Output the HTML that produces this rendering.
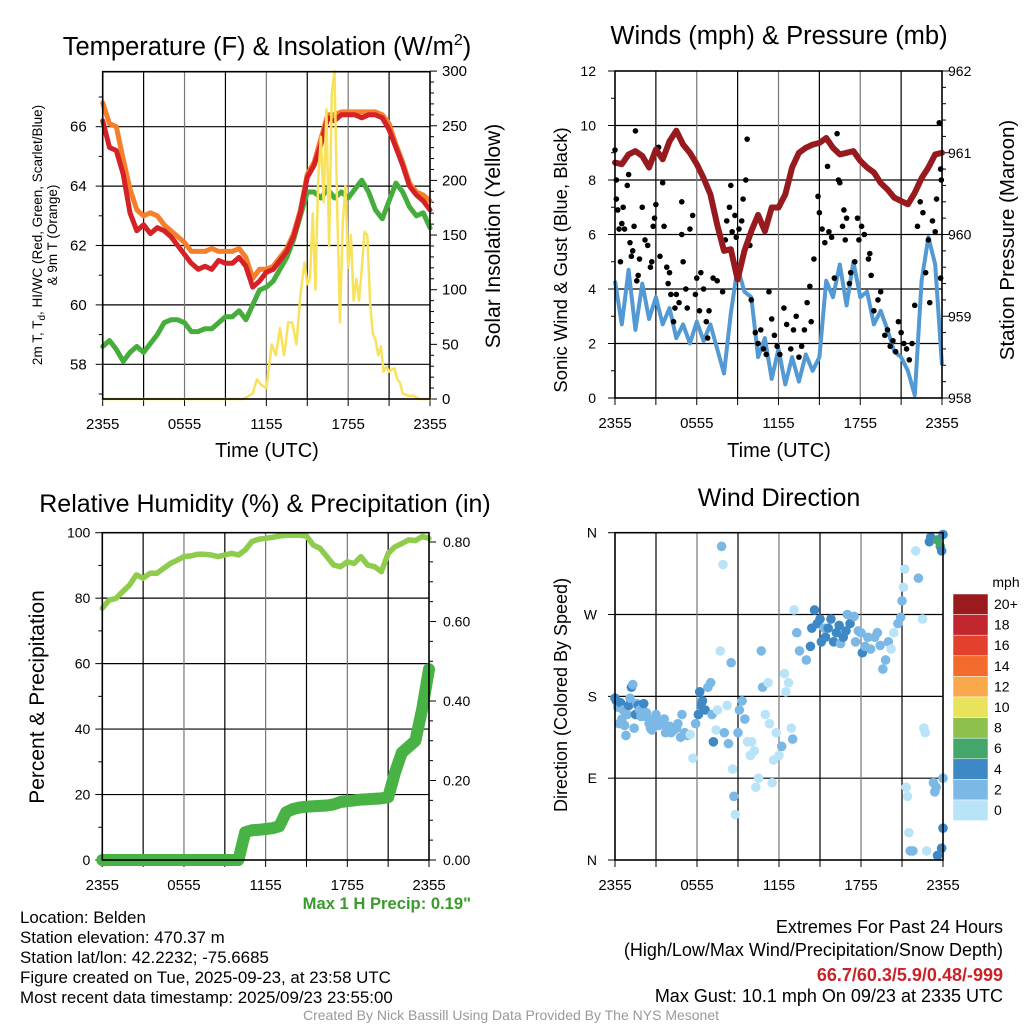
<!DOCTYPE html>
<html><head><meta charset="utf-8"><style>
html,body{margin:0;padding:0;background:#fff;}
svg{display:block;font-family:"Liberation Sans",Arial,sans-serif;}
</style></head><body>
<svg id="chart" width="1024" height="1024" viewBox="0 0 1024 1024"></svg>
<script>
// ---------- DATA ----------
const tempRed=[66.2,65.3,65.2,64.4,63.1,62.5,62.7,62.4,62.6,62.5,62.3,62.0,61.7,61.4,61.2,61.3,61.2,61.5,61.4,61.4,61.6,61.3,60.6,60.8,61.1,61.2,61.5,61.8,62.3,63.1,64.3,64.7,65.4,66.3,66.2,66.4,66.4,66.4,66.3,66.4,66.4,66.3,65.9,65.3,64.7,64.0,63.7,63.5,63.2];
const tempOrange=[66.8,66.1,66.0,64.9,63.9,63.2,63.0,63.1,63.0,62.7,62.5,62.3,62.1,61.8,61.8,61.8,61.9,61.8,61.8,61.8,61.9,61.6,60.9,61.2,61.2,61.3,61.6,61.9,62.4,63.2,64.4,64.8,65.6,66.4,66.4,66.5,66.5,66.5,66.5,66.5,66.5,66.4,66.1,65.4,64.8,64.1,63.8,63.7,63.5];
const dewGreen=[58.6,58.8,58.5,58.1,58.4,58.6,58.4,58.7,59.0,59.4,59.5,59.5,59.4,59.1,59.1,59.2,59.2,59.4,59.6,59.6,59.8,59.5,60.0,60.5,60.6,60.8,61.2,61.6,62.2,63.0,63.8,63.8,63.6,63.9,63.6,63.8,63.6,63.9,64.2,63.8,63.2,62.9,63.5,64.1,63.8,63.3,63.0,63.1,62.6];
const solarTimes=[0,10.3,10.6,11,11.3,11.6,12,12.4,12.7,13,13.3,13.6,13.9,14.2,14.5,14.8,15,15.2,15.4,15.6,15.8,16,16.2,16.4,16.6,16.8,17,17.2,17.4,17.6,17.8,18,18.2,18.4,18.6,18.8,19,19.2,19.4,19.6,19.8,20,20.2,20.4,20.6,20.8,21,21.2,21.4,21.6,21.8,22,22.4,22.8,23.2,24];
const solarVals=[0,0,2,5,18,13,10,50,40,65,40,70,70,50,95,125,105,110,170,100,200,240,180,265,140,280,300,170,70,160,195,120,150,90,110,90,120,153,150,90,60,55,40,48,25,30,25,27,28,18,15,5,3,3,0,0];
const pressure=[960.88,960.86,960.98,961.02,960.96,960.82,961.04,960.92,961.14,961.27,961.10,961.0,960.86,960.69,960.49,960.12,959.80,959.82,959.45,959.80,960.04,960.24,960.04,960.33,960.33,960.49,960.82,961.0,961.06,961.10,961.12,961.18,961.06,960.98,961.0,961.02,960.90,960.82,960.76,960.63,960.55,960.45,960.41,960.37,960.51,960.69,960.82,960.98,961.0];
const sonicWind=[4.3,2.7,4.7,2.5,4.2,2.9,3.7,2.7,3.3,2.2,2.7,2.0,2.8,2.1,2.7,1.8,0.9,3.1,4.8,3.9,3.7,1.5,2.2,0.7,1.8,0.5,1.5,0.6,1.6,1.0,1.5,4.3,3.7,4.9,3.4,5.0,3.7,3.9,2.7,3.2,2.5,1.7,1.5,1.0,0.1,4.3,5.9,4.9,1.2];
const gustTimes=[0.0,0.1,0.1,0.2,0.3,0.4,0.5,0.6,0.7,0.9,1.0,1.1,1.2,1.3,1.4,1.5,1.6,1.7,1.8,2.0,2.2,2.4,2.6,2.7,2.8,2.9,3.0,3.2,3.3,3.5,3.6,3.8,3.9,4.0,4.1,4.3,4.4,4.5,4.7,4.9,4.9,5.0,5.2,5.3,5.5,5.7,5.9,6.0,6.2,6.3,6.5,6.7,6.8,6.9,7.2,7.5,7.9,8.1,8.2,8.4,8.5,8.6,8.8,8.9,9.1,9.3,9.4,9.6,9.7,9.9,10.0,10.3,10.5,10.7,10.9,11.1,11.3,11.5,11.7,11.9,12.1,12.4,12.6,12.9,13.1,13.3,13.5,13.7,13.9,14.1,14.3,14.4,14.6,14.9,15.0,15.2,15.4,15.6,15.7,15.9,16.1,16.3,16.4,16.5,16.7,16.8,16.9,17.0,17.2,17.3,17.6,17.8,17.9,18.1,18.3,18.6,18.7,18.8,19.0,19.3,19.5,19.8,20.0,20.2,20.4,20.6,20.8,21.0,21.2,21.4,21.6,21.8,22.0,22.2,22.4,22.6,22.8,23.0,23.1,23.3,23.5,23.6,23.8,23.9,23.9,23.95];
const gustVals=[9.1,8.0,7.3,6.9,6.2,5.0,6.4,7.0,6.2,7.8,8.2,5.7,5.2,5.4,6.3,9.8,4.3,4.5,5.1,7.0,5.8,5.6,4.8,5.0,6.3,6.6,7.1,9.2,5.2,7.9,6.3,4.8,4.2,4.6,3.8,2.8,3.3,3.8,3.5,7.2,6.0,5.0,4.0,3.3,6.2,6.7,3.8,4.4,3.2,4.6,4.0,2.8,2.2,3.2,4.4,4.3,3.9,5.8,6.5,7.0,7.8,6.1,6.7,5.9,6.2,6.5,7.3,8.0,9.5,5.6,3.6,2.4,2.0,2.5,1.8,1.6,3.9,2.9,2.3,1.9,1.6,3.3,2.7,1.8,2.5,3.0,1.5,1.9,2.5,3.5,4.1,2.8,5.1,7.4,6.8,6.2,5.7,8.5,6.1,5.9,4.4,9.7,8.0,7.9,6.3,6.9,5.8,6.6,4.2,4.6,5.0,6.6,5.8,6.3,6.0,5.1,5.3,4.5,3.2,3.6,3.9,2.3,2.5,1.9,2.1,1.7,2.8,2.4,2.0,1.8,1.4,2.0,3.4,6.3,7.2,6.8,4.6,5.8,3.5,6.5,6.1,7.3,10.1,4.4,8.4,8.0];
const rhVals=[76.9,79.4,79.9,82.0,84.0,87.1,86.1,87.6,87.6,89.1,90.6,91.6,92.7,92.9,93.4,93.4,93.2,92.7,93.2,93.7,93.2,94.7,97.3,98.0,98.3,98.6,99.0,99.2,99.3,99.2,99.0,96.2,95.2,92.7,90.1,89.6,91.1,90.6,92.7,90.1,89.6,88.1,93.7,95.7,96.7,97.8,97.6,98.8,98.3];
const precipVals=[0,0,0,0,0,0,0,0,0,0,0,0,0,0,0,0,0,0,0,0,0,0.07,0.075,0.076,0.078,0.08,0.085,0.12,0.128,0.132,0.134,0.135,0.136,0.137,0.14,0.146,0.148,0.15,0.152,0.153,0.154,0.155,0.158,0.22,0.27,0.285,0.30,0.38,0.48];
const dirTimes=[0.0,0.1,0.2,0.3,0.4,0.5,0.6,0.7,0.8,0.9,1.0,1.1,1.2,1.3,1.4,1.5,1.6,1.7,1.8,1.9,2.0,2.1,2.2,2.3,2.5,2.6,2.7,2.8,3.0,3.1,3.2,3.4,3.6,3.7,3.8,4.0,4.1,4.3,4.5,4.6,4.8,4.9,5.1,5.3,5.5,5.7,5.9,6.1,6.2,6.3,6.4,6.6,6.8,7.0,7.1,7.2,7.4,7.5,7.7,7.8,7.9,8.0,8.2,8.3,8.5,8.6,8.7,8.8,9.0,9.1,9.3,9.5,9.7,9.9,10.0,10.2,10.3,10.5,10.7,10.8,11.0,11.2,11.3,11.5,11.6,11.8,12.0,12.2,12.4,12.5,12.7,12.9,13.0,13.1,13.3,13.5,14.0,14.3,14.4,14.6,14.8,15.0,15.1,15.3,15.4,15.6,15.8,16.0,16.2,16.4,16.5,16.7,16.9,17.0,17.2,17.5,17.6,17.8,18.0,18.1,18.3,18.5,18.7,19.0,19.2,19.4,19.6,19.8,20.0,20.2,20.4,20.7,20.9,21.0,21.1,21.2,21.3,21.4,21.5,21.6,21.8,22.0,22.2,22.5,22.6,22.7,22.8,23.0,23.1,23.3,23.4,23.5,23.6,23.8,23.9,24.0,24.0,23.9,23.6,24.0];
const dirVals=[178,175,168,150,173,155,165,148,137,160,170,178,190,193,145,160,172,170,165,158,168,172,158,162,150,145,143,155,160,152,148,150,155,140,145,147,140,143,145,150,135,160,140,137,138,112,150,160,185,170,175,165,190,195,160,130,143,165,230,345,325,140,170,128,217,100,70,50,140,165,175,155,130,115,130,120,80,90,230,190,160,195,150,85,110,140,115,125,205,185,195,145,133,275,250,230,220,235,255,275,260,265,240,255,245,255,265,240,250,258,238,245,252,270,260,268,240,252,250,228,235,245,232,245,250,236,210,220,240,232,250,260,267,285,300,320,80,70,30,10,10,340,310,265,145,140,10,350,355,85,75,80,352,345,340,358,35,13,5,90];
const dirSpeeds=[5,5,3,3,5,3,3,3,3,3,5,3,5,3,3,5,3,5,3,3,3,5,3,3,3,3,3,3,3,3,3,3,3,3,3,3,3,3,3,3,3,3,3,3,1,1,3,5,5,5,5,5,3,3,3,5,1,1,1,3,1,3,1,3,3,1,3,1,3,3,3,3,1,1,1,1,1,1,3,3,1,1,1,1,1,1,1,3,1,1,1,1,3,1,3,3,3,5,5,5,5,5,5,3,5,5,5,5,5,5,3,5,5,3,5,3,3,3,3,5,3,3,3,3,3,3,3,3,3,1,1,3,3,3,1,1,1,1,1,3,3,1,3,1,1,1,1,5,5,3,3,3,7,7,5,5,5,5,5,3];
const speedLabels=["20+","18","16","14","12","10","8","6","4","2","0"];
const speedColors=["#9a1a1d","#c1272d","#e4402e","#f26b2c","#f9a84b","#e9e25c","#8dc14b","#44a66b","#3d88c5","#7bb8e5","#b9e3f7"];

// ---------- HELPERS ----------
const NS="http://www.w3.org/2000/svg";
const svg=document.getElementById('chart');
function mk(tag,attrs,parent){const e=document.createElementNS(NS,tag);for(const k in attrs)e.setAttribute(k,attrs[k]);(parent||svg).appendChild(e);return e;}
function txt(s,x,y,size,anchor,parent,extra){const e=mk('text',Object.assign({x:x,y:y,'font-size':size,'text-anchor':anchor||'middle',fill:'#000'},extra||{}),parent);e.textContent=s;return e;}
const xTickLabels=["2355","0555","1155","1755","2355"];
const halfHours=tempRed.map((v,i)=>i*0.5);

function panel(name,L,R,T,B){
  const g=mk('g',{});
  
  
  const xs=t=>L+t/24*(R-L);
  return {g,L,R,T,B,xs};
}
function vgrid(p){
  for(let h=3;h<24;h+=3){const x=p.xs(h);
    mk('line',{x1:x,y1:p.T,x2:x,y2:p.B,stroke:h%6==0?'#777':'#000','stroke-width':1.2},p.g);}
  const gt=mk('g',{},p.g);
  
  
  for(let h=0;h<=24;h+=3){const x=p.xs(h);mk('line',{x1:x,y1:p.B,x2:x,y2:p.B+7,stroke:'#000','stroke-width':1},gt);}
  xTickLabels.forEach((s,i)=>{txt(s,p.xs(i*6),p.B+30,15,'middle',gt);});
}
function frame(p){mk('rect',{x:p.L,y:p.T,width:p.R-p.L,height:p.B-p.T,fill:'none',stroke:'#000','stroke-width':1.6},p.g);}
function pathFrom(ts,vs,xs,ys){return ts.map((t,i)=>(i?'L':'M')+xs(t).toFixed(1)+','+ys(vs[i]).toFixed(1)).join(' ');}

// ---------- PANEL 1: Temperature ----------
(function(){
  const p=panel('temperature-panel',102.7,430,71.7,399);
  const yT=v=>126.7+(66-v)*29.7;
  const yS=v=>399-v*1.093;
  for(let v=58;v<=66;v+=2)mk('line',{x1:p.L,y1:yT(v),x2:p.R,y2:yT(v),stroke:'#000','stroke-width':1.2},p.g);
  vgrid(p);
  const ly=mk('g',{},p.g);
  for(let v=57;v<=67;v++){mk('line',{x1:p.L-(v%2==0?7:4),y1:yT(v),x2:p.L,y2:yT(v),stroke:'#000'},ly);if(v%2==0)txt(String(v),p.L-16,yT(v)+5,15,'end',ly);}
  const ry=mk('g',{},p.g);
  for(let v=0;v<=300;v+=10){mk('line',{x1:p.R,y1:yS(v),x2:p.R+(v%50==0?7:4),y2:yS(v),stroke:'#000'},ry);if(v%50==0)txt(String(v),p.R+12,yS(v)+5,15,'start',ry);}
  const series=[[halfHours,dewGreen,'#46ad3d','dewpoint-line',5],[halfHours,tempOrange,'#f57f2a','temp-9m-line',5],[halfHours,tempRed,'#d42227','temp-2m-line',5],[solarTimes,solarVals,'#f8e25c','solar-line',2.5]];
  series.forEach(s=>{const ys=s===series[3]?yS:yT;const e=mk('path',{d:pathFrom(s[0],s[1],p.xs,ys),fill:'none',stroke:s[2],'stroke-width':s[4],'stroke-linejoin':'round','stroke-linecap':'round'},p.g);
    });
  frame(p);
  const t=txt('',267,55,25.5,'middle',p.g);t.innerHTML='Temperature (F) &amp; Insolation (W/m<tspan dy="-10" font-size="16">2</tspan><tspan dy="10">)</tspan>';
  
  const xl=txt('Time (UTC)',267,457,20,'middle',p.g);
  const yl=mk('text',{transform:'translate(42,235) rotate(-90)','font-size':13.5,'text-anchor':'middle'},p.g);
  yl.innerHTML='<tspan x="0" y="0">2m T, T<tspan font-size="10" dy="3">d</tspan><tspan dy="-3">, HI/WC (Red, Green, Scarlet/Blue)</tspan></tspan><tspan x="0" y="15">&amp; 9m T (Orange)</tspan>';
  
  const yr=mk('text',{transform:'translate(500,236) rotate(-90)','font-size':21,'text-anchor':'middle'},p.g);yr.textContent='Solar Insolation (Yellow)';
  
})();

// ---------- PANEL 2: Winds ----------
(function(){
  const p=panel('winds-panel',615,942,71,398);
  const yW=v=>398-v*27.25;
  const yP=v=>398-(v-958)*81.75;
  for(let v=2;v<=10;v+=2)mk('line',{x1:p.L,y1:yW(v),x2:p.R,y2:yW(v),stroke:'#000','stroke-width':1.2},p.g);
  vgrid(p);
  const ly=mk('g',{},p.g);
  for(let v=0;v<=12;v++){mk('line',{x1:p.L-(v%2==0?7:4),y1:yW(v),x2:p.L,y2:yW(v),stroke:'#000'},ly);if(v%2==0)txt(String(v),p.L-19,yW(v)+5,14,'end',ly);}
  const ry=mk('g',{},p.g);
  for(let v=958;v<=962.001;v+=0.2){const vv=Math.round(v*10)/10;const maj=Math.abs(vv-Math.round(vv))<0.01;mk('line',{x1:p.R,y1:yP(vv),x2:p.R+(maj?7:4),y2:yP(vv),stroke:'#000'},ry);if(maj)txt(String(Math.round(vv)),p.R+6,yP(vv)+5,14,'start',ry);}
  const b=mk('path',{d:pathFrom(halfHours,sonicWind,p.xs,yW),fill:'none',stroke:'#5399d3','stroke-width':4,'stroke-linejoin':'round'},p.g);
  
  const gg=mk('g',{},p.g);
  gustTimes.forEach((t,i)=>{const c=mk('circle',{cx:p.xs(t),cy:yW(gustVals[i]),r:2.8,fill:'#000'},gg);
    
    });
  const pr=mk('path',{d:pathFrom(halfHours,pressure,p.xs,yP),fill:'none',stroke:'#971b1e','stroke-width':6,'stroke-linejoin':'round','stroke-linecap':'round'},p.g);
  
  frame(p);
  const t=txt('Winds (mph) & Pressure (mb)',779,44,25.5,'middle',p.g);
  const xl=txt('Time (UTC)',779,457,20,'middle',p.g);
  const yl=mk('text',{transform:'translate(567,260) rotate(-90)','font-size':18.5,'text-anchor':'middle'},p.g);yl.textContent='Sonic Wind & Gust (Blue, Black)';
  
  const yr=mk('text',{transform:'translate(1014,240) rotate(-90)','font-size':20.5,'text-anchor':'middle'},p.g);yr.textContent='Station Pressure (Maroon)';
  
})();

// ---------- PANEL 3: RH & Precip ----------
(function(){
  const p=panel('humidity-panel',102.3,429,532.7,860);
  const yR=v=>860-v*3.273;
  const yPc=v=>860-v*397.5;
  for(let v=20;v<=80;v+=20)mk('line',{x1:p.L,y1:yR(v),x2:p.R,y2:yR(v),stroke:'#000','stroke-width':1.2},p.g);
  vgrid(p);
  const ly=mk('g',{},p.g);
  for(let v=0;v<=100;v+=10){mk('line',{x1:p.L-(v%20==0?7:4),y1:yR(v),x2:p.L,y2:yR(v),stroke:'#000'},ly);if(v%20==0)txt(String(v),p.L-12,yR(v)+5,14,'end',ly);}
  const ry=mk('g',{},p.g);
  for(let k=0;k<=16;k++){const v=k*0.05;mk('line',{x1:p.R,y1:yPc(v),x2:p.R+(k%4==0?7:4),y2:yPc(v),stroke:'#000'},ry);if(k%4==0)txt(v.toFixed(2),p.R+14,yPc(v)+5,14,'start',ry);}
  const rh=mk('path',{d:pathFrom(halfHours,rhVals,p.xs,yR),fill:'none',stroke:'#8fcb4d','stroke-width':5.5,'stroke-linejoin':'round','stroke-linecap':'round'},p.g);
  
  const pc=mk('path',{d:pathFrom(halfHours,precipVals,p.xs,yPc),fill:'none',stroke:'#48b245','stroke-width':12,'stroke-linejoin':'round','stroke-linecap':'round'},p.g);
  
  frame(p);
  const t=txt('Relative Humidity (%) & Precipitation (in)',265,512,25,'middle',p.g);
  const yl=mk('text',{transform:'translate(44,697) rotate(-90)','font-size':21,'text-anchor':'middle'},p.g);yl.textContent='Percent & Precipitation';
  
  const mp=txt('Max 1 H Precip: 0.19"',471,909,16.6,'end',p.g,{fill:'#3a9a2e','font-weight':'bold'});
  
})();

// ---------- PANEL 4: Wind Direction ----------
(function(){
  const p=panel('wind-direction-panel',615,943,532.7,860);
  const yD=v=>860-v/360*327.3;
  for(let v=90;v<=270;v+=90)mk('line',{x1:p.L,y1:yD(v),x2:p.R,y2:yD(v),stroke:'#000','stroke-width':1.2},p.g);
  vgrid(p);
  const ly=mk('g',{},p.g);
  ['N','E','S','W','N'].forEach((s,i)=>{mk('line',{x1:p.L-7,y1:yD(i*90),x2:p.L,y2:yD(i*90),stroke:'#000'},ly);txt(s,p.L-18,yD(i*90)+5,14,'end',ly);});
  const colorFor=s=>speedColors[10-Math.min(10,Math.floor(s/2))];
  const dg=mk('g',{},p.g);
  dirTimes.forEach((t,i)=>{const c=mk('circle',{cx:p.xs(t),cy:yD(dirVals[i]),r:4.8,fill:colorFor(dirSpeeds[i])},dg);
    
    });
  frame(p);
  const t=txt('Wind Direction',779,506,25,'middle',p.g);
  const yl=mk('text',{transform:'translate(567,695) rotate(-90)','font-size':18,'text-anchor':'middle'},p.g);yl.textContent='Direction (Colored By Speed)';
  
  const lg=mk('g',{},p.g);
  txt('mph',1006,587,14,'middle',lg);
  speedLabels.forEach((s,i)=>{const y=594+i*20.6;
    const r=mk('rect',{x:953,y:y,width:35,height:20.6,fill:speedColors[i],stroke:'#fff','stroke-width':0.5},lg);
    
    
    txt(s,994,y+15,14,'start',lg);});
})();

// ---------- FOOTER TEXT ----------
(function(){
  const g=mk('g',{});
  ['Location: Belden','Station elevation: 470.37 m','Station lat/lon: 42.2232; -75.6685','Figure created on Tue, 2025-09-23, at 23:58 UTC','Most recent data timestamp: 2025/09/23 23:55:00'].forEach((s,i)=>txt(s,20,923+i*20,16.9,'start',g));
  const e=mk('g',{});
  txt('Extremes For Past 24 Hours',1003,933,18,'end',e);
  txt('(High/Low/Max Wind/Precipitation/Snow Depth)',1003,956,18,'end',e);
  txt('66.7/60.3/5.9/0.48/-999',1003,981,18,'end',e,{fill:'#c9232a','font-weight':'bold'});
  txt('Max Gust: 10.1 mph On 09/23 at 2335 UTC',1003,1002,18,'end',e);
  const c=txt('Created By Nick Bassill Using Data Provided By The NYS Mesonet',511,1020,14,'middle',null,{fill:'#999'});
  
})();
</script>
</body></html>
